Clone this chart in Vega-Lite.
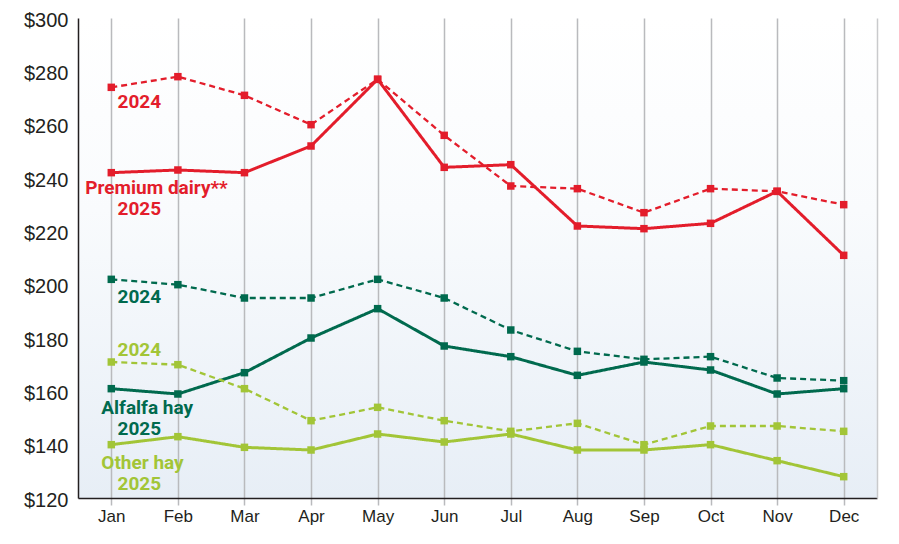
{
 "$schema": "https://vega.github.io/schema/vega-lite/v6.json",
 "width": 799, "height": 480,
 "autosize": "none",
 "padding": {"left": 78, "top": 18, "right": 22, "bottom": 46},
 "background": "white",
 "config": {
  "view": {"stroke": null, "fill": {"gradient": "linear", "x1": 0, "y1": 0, "x2": 0, "y2": 1, "stops": [{"offset": 0, "color": "#ffffff"}, {"offset": 0.4, "color": "#f9fbfd"}, {"offset": 1, "color": "#e7eef6"}]}},
  "axis": {"labelFont": "Liberation Sans", "labelColor": "#231f20", "title": null}
 },
 "datasets": {
  "prices": [
   {"month":"Jan","series":"Premium dairy","year":"2024","value":274},
   {"month":"Feb","series":"Premium dairy","year":"2024","value":278},
   {"month":"Mar","series":"Premium dairy","year":"2024","value":271},
   {"month":"Apr","series":"Premium dairy","year":"2024","value":260},
   {"month":"May","series":"Premium dairy","year":"2024","value":277},
   {"month":"Jun","series":"Premium dairy","year":"2024","value":256},
   {"month":"Jul","series":"Premium dairy","year":"2024","value":237},
   {"month":"Aug","series":"Premium dairy","year":"2024","value":236},
   {"month":"Sep","series":"Premium dairy","year":"2024","value":227},
   {"month":"Oct","series":"Premium dairy","year":"2024","value":236},
   {"month":"Nov","series":"Premium dairy","year":"2024","value":235},
   {"month":"Dec","series":"Premium dairy","year":"2024","value":230},
   {"month":"Jan","series":"Premium dairy","year":"2025","value":242},
   {"month":"Feb","series":"Premium dairy","year":"2025","value":243},
   {"month":"Mar","series":"Premium dairy","year":"2025","value":242},
   {"month":"Apr","series":"Premium dairy","year":"2025","value":252},
   {"month":"May","series":"Premium dairy","year":"2025","value":277},
   {"month":"Jun","series":"Premium dairy","year":"2025","value":244},
   {"month":"Jul","series":"Premium dairy","year":"2025","value":245},
   {"month":"Aug","series":"Premium dairy","year":"2025","value":222},
   {"month":"Sep","series":"Premium dairy","year":"2025","value":221},
   {"month":"Oct","series":"Premium dairy","year":"2025","value":223},
   {"month":"Nov","series":"Premium dairy","year":"2025","value":235},
   {"month":"Dec","series":"Premium dairy","year":"2025","value":211},
   {"month":"Jan","series":"Alfalfa hay","year":"2024","value":202},
   {"month":"Feb","series":"Alfalfa hay","year":"2024","value":200},
   {"month":"Mar","series":"Alfalfa hay","year":"2024","value":195},
   {"month":"Apr","series":"Alfalfa hay","year":"2024","value":195},
   {"month":"May","series":"Alfalfa hay","year":"2024","value":202},
   {"month":"Jun","series":"Alfalfa hay","year":"2024","value":195},
   {"month":"Jul","series":"Alfalfa hay","year":"2024","value":183},
   {"month":"Aug","series":"Alfalfa hay","year":"2024","value":175},
   {"month":"Sep","series":"Alfalfa hay","year":"2024","value":172},
   {"month":"Oct","series":"Alfalfa hay","year":"2024","value":173},
   {"month":"Nov","series":"Alfalfa hay","year":"2024","value":165},
   {"month":"Dec","series":"Alfalfa hay","year":"2024","value":164},
   {"month":"Jan","series":"Alfalfa hay","year":"2025","value":161},
   {"month":"Feb","series":"Alfalfa hay","year":"2025","value":159},
   {"month":"Mar","series":"Alfalfa hay","year":"2025","value":167},
   {"month":"Apr","series":"Alfalfa hay","year":"2025","value":180},
   {"month":"May","series":"Alfalfa hay","year":"2025","value":191},
   {"month":"Jun","series":"Alfalfa hay","year":"2025","value":177},
   {"month":"Jul","series":"Alfalfa hay","year":"2025","value":173},
   {"month":"Aug","series":"Alfalfa hay","year":"2025","value":166},
   {"month":"Sep","series":"Alfalfa hay","year":"2025","value":171},
   {"month":"Oct","series":"Alfalfa hay","year":"2025","value":168},
   {"month":"Nov","series":"Alfalfa hay","year":"2025","value":159},
   {"month":"Dec","series":"Alfalfa hay","year":"2025","value":161},
   {"month":"Jan","series":"Other hay","year":"2024","value":171},
   {"month":"Feb","series":"Other hay","year":"2024","value":170},
   {"month":"Mar","series":"Other hay","year":"2024","value":161},
   {"month":"Apr","series":"Other hay","year":"2024","value":149},
   {"month":"May","series":"Other hay","year":"2024","value":154},
   {"month":"Jun","series":"Other hay","year":"2024","value":149},
   {"month":"Jul","series":"Other hay","year":"2024","value":145},
   {"month":"Aug","series":"Other hay","year":"2024","value":148},
   {"month":"Sep","series":"Other hay","year":"2024","value":140},
   {"month":"Oct","series":"Other hay","year":"2024","value":147},
   {"month":"Nov","series":"Other hay","year":"2024","value":147},
   {"month":"Dec","series":"Other hay","year":"2024","value":145},
   {"month":"Jan","series":"Other hay","year":"2025","value":140},
   {"month":"Feb","series":"Other hay","year":"2025","value":143},
   {"month":"Mar","series":"Other hay","year":"2025","value":139},
   {"month":"Apr","series":"Other hay","year":"2025","value":138},
   {"month":"May","series":"Other hay","year":"2025","value":144},
   {"month":"Jun","series":"Other hay","year":"2025","value":141},
   {"month":"Jul","series":"Other hay","year":"2025","value":144},
   {"month":"Aug","series":"Other hay","year":"2025","value":138},
   {"month":"Sep","series":"Other hay","year":"2025","value":138},
   {"month":"Oct","series":"Other hay","year":"2025","value":140},
   {"month":"Nov","series":"Other hay","year":"2025","value":134},
   {"month":"Dec","series":"Other hay","year":"2025","value":128}
  ],
  "labels": [
   {"month":"Jan","text":"2024","series":"Premium dairy","value":268.5,"kind":"year"},
   {"month":"Jan","text":"Premium dairy**","series":"Premium dairy","value":236.4,"kind":"wide"},
   {"month":"Jan","text":"2025","series":"Premium dairy","value":228.2,"kind":"year"},
   {"month":"Jan","text":"2024","series":"Alfalfa hay","value":195.4,"kind":"year"},
   {"month":"Jan","text":"2024","series":"Other hay","value":175.5,"kind":"year"},
   {"month":"Jan","text":"Alfalfa hay","series":"Alfalfa hay","value":153.6,"kind":"name"},
   {"month":"Jan","text":"2025","series":"Alfalfa hay","value":146.0,"kind":"year"},
   {"month":"Jan","text":"Other hay","series":"Other hay","value":133.3,"kind":"name"},
   {"month":"Jan","text":"2025","series":"Other hay","value":125.4,"kind":"year"}
  ]
 },
 "layer": [
  {
   "data": {"name": "prices"},
   "mark": {"type": "line"},
   "encoding": {
    "x": {"field": "month", "type": "ordinal", "sort": ["Jan","Feb","Mar","Apr","May","Jun","Jul","Aug","Sep","Oct","Nov","Dec"],
          "scale": {"type": "point", "padding": 0.5, "domain": ["Jan","Feb","Mar","Apr","May","Jun","Jul","Aug","Sep","Oct","Nov","Dec"]},
          "axis": {"grid": true, "gridColor": "#b9babd", "gridWidth": 1.5, "domainColor": "#231f20", "domainWidth": 1.5, "tickColor": "#b9babd", "tickWidth": 1.5, "tickSize": 7, "labelFontSize": 17, "labelPadding": 3, "labelAngle": 0}},
    "y": {"field": "value", "type": "quantitative", "scale": {"domain": [120, 300], "nice": false, "zero": false},
          "axis": {"grid": false, "ticks": false, "domainColor": "#231f20", "domainWidth": 1.5, "labelFontSize": 20, "labelPadding": 10, "labelOffset": 2, "values": [120,140,160,180,200,220,240,260,280,300], "labelExpr": "'$' + datum.value"}},
    "color": {"field": "series", "type": "nominal", "scale": {"domain": ["Premium dairy","Alfalfa hay","Other hay"], "range": ["#e31d2b","#006a4e","#a2c537"]}, "legend": null},
    "strokeDash": {"field": "year", "type": "nominal", "scale": {"domain": ["2024","2025"], "range": [[6,4],[1,0]]}, "legend": null},
    "strokeWidth": {"field": "year", "type": "ordinal", "scale": {"domain": ["2024","2025"], "range": [2.3, 3]}, "legend": null}
   }
  },
  {
   "data": {"name": "prices"},
   "mark": {"type": "point", "shape": "square", "filled": true, "size": 56, "opacity": 1},
   "encoding": {
    "x": {"field": "month", "type": "ordinal", "sort": ["Jan","Feb","Mar","Apr","May","Jun","Jul","Aug","Sep","Oct","Nov","Dec"]},
    "y": {"field": "value", "type": "quantitative", "axis": {"orient": "right", "labels": false, "ticks": false, "grid": false, "domainColor": "#c9cacc", "domainWidth": 1.5}},
    "color": {"field": "series", "type": "nominal", "legend": null}
   }
  },
  {
   "data": {"name": "labels"},
   "transform": [{"filter": "datum.kind === 'year'"}],
   "mark": {"type": "text", "font": "Roboto", "fontWeight": "bold", "fontSize": 19, "align": "center", "baseline": "middle", "dx": 28},
   "encoding": {
    "x": {"field": "month", "type": "ordinal", "sort": ["Jan","Feb","Mar","Apr","May","Jun","Jul","Aug","Sep","Oct","Nov","Dec"]},
    "y": {"field": "value", "type": "quantitative", "axis": null},
    "text": {"field": "text"},
    "color": {"field": "series", "type": "nominal", "legend": null}
   }
  },
  {
   "data": {"name": "labels"},
   "transform": [{"filter": "datum.kind === 'name'"}],
   "mark": {"type": "text", "font": "Roboto", "fontWeight": "bold", "fontSize": 19, "align": "left", "baseline": "middle", "dx": -10},
   "encoding": {
    "x": {"field": "month", "type": "ordinal", "sort": ["Jan","Feb","Mar","Apr","May","Jun","Jul","Aug","Sep","Oct","Nov","Dec"]},
    "y": {"field": "value", "type": "quantitative", "axis": null},
    "text": {"field": "text"},
    "color": {"field": "series", "type": "nominal", "legend": null}
   }
  },
  {
   "data": {"name": "labels"},
   "transform": [{"filter": "datum.kind === 'wide'"}],
   "mark": {"type": "text", "font": "Roboto", "fontWeight": "bold", "fontSize": 19, "align": "left", "baseline": "middle", "dx": -26},
   "encoding": {
    "x": {"field": "month", "type": "ordinal", "sort": ["Jan","Feb","Mar","Apr","May","Jun","Jul","Aug","Sep","Oct","Nov","Dec"]},
    "y": {"field": "value", "type": "quantitative", "axis": null},
    "text": {"field": "text"},
    "color": {"field": "series", "type": "nominal", "legend": null}
   }
  }
 ],
 "resolve": {"axis": {"y": "independent"}}
}
